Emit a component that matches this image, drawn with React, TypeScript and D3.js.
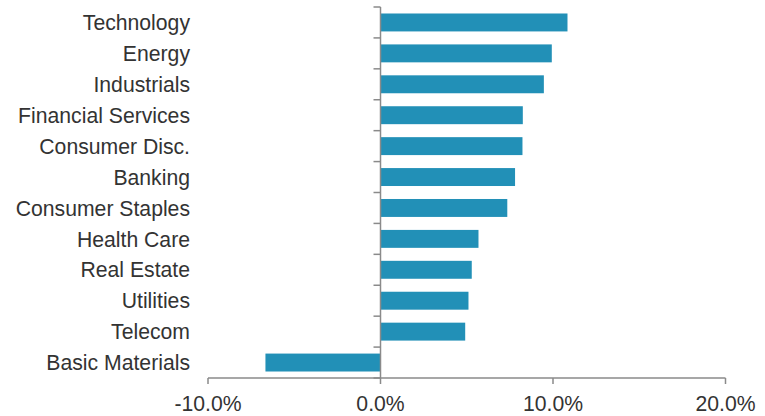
import React from "react";
import * as d3 from "d3";

// Sector returns, top to bottom
const sectors = [
  "Technology",
  "Energy",
  "Industrials",
  "Financial Services",
  "Consumer Disc.",
  "Banking",
  "Consumer Staples",
  "Health Care",
  "Real Estate",
  "Utilities",
  "Telecom",
  "Basic Materials",
];
const returns = [10.84, 9.93, 9.47, 8.25, 8.23, 7.8, 7.35, 5.68, 5.29, 5.1, 4.91, -6.67];
const xTicks = [-10, 0, 10, 20];

const W = 765;
const H = 416;
const FONT = "'Liberation Sans', Arial, sans-serif";
const TEXT = "#333333";
const AXIS = "#8a8a8a";
const BAR = "#2290b7";
const FS = 21.2;

export default function App() {
  const x = d3.scaleLinear().domain([-10, 20]).range([208, 725.5]);
  const pad = 0.42;
  const y = d3
    .scaleBand<string>()
    .domain(sectors)
    .range([7, 378])
    .paddingInner(pad)
    .paddingOuter(pad / 2);
  const step = y.step();
  const boundaries = d3.range(sectors.length + 1).map((i) => y.range()[0] + i * step);
  const x0 = x(0);
  const axisY = y.range()[1];
  const fmt = (v: number) => v.toFixed(1) + "%";

  return (
    <svg
      width={W}
      height={H}
      style={{ position: "absolute", left: 0, top: 0, background: "#fff" }}
      fontFamily={FONT}
    >
      {/* bars */}
      {sectors.map((s, i) => {
        const v = returns[i];
        return (
          <rect
            key={s}
            x={Math.min(x(v), x0)}
            y={y(s)}
            width={Math.abs(x(v) - x0)}
            height={y.bandwidth()}
            fill={BAR}
          />
        );
      })}

      {/* category axis */}
      <line x1={x0} x2={x0} y1={boundaries[0]} y2={axisY} stroke={AXIS} strokeWidth={1.5} />
      {boundaries.map((b, i) => (
        <line key={i} x1={x0 - 7} x2={x0} y1={b} y2={b} stroke={AXIS} strokeWidth={1.5} />
      ))}
      {sectors.map((s) => (
        <text
          key={s}
          x={190}
          y={(y(s) ?? 0) + y.bandwidth() / 2}
          dy="0.36em"
          textAnchor="end"
          fontSize={FS}
          fill={TEXT}
        >
          {s}
        </text>
      ))}

      {/* value axis */}
      <line x1={x(-10)} x2={x(20)} y1={axisY} y2={axisY} stroke={AXIS} strokeWidth={1.5} />
      {xTicks.map((t) => (
        <g key={t}>
          <line x1={x(t)} x2={x(t)} y1={axisY} y2={axisY + 6} stroke={AXIS} strokeWidth={1.5} />
          <text x={x(t)} y={411} textAnchor="middle" fontSize={FS} fill={TEXT}>
            {fmt(t)}
          </text>
        </g>
      ))}
    </svg>
  );
}
